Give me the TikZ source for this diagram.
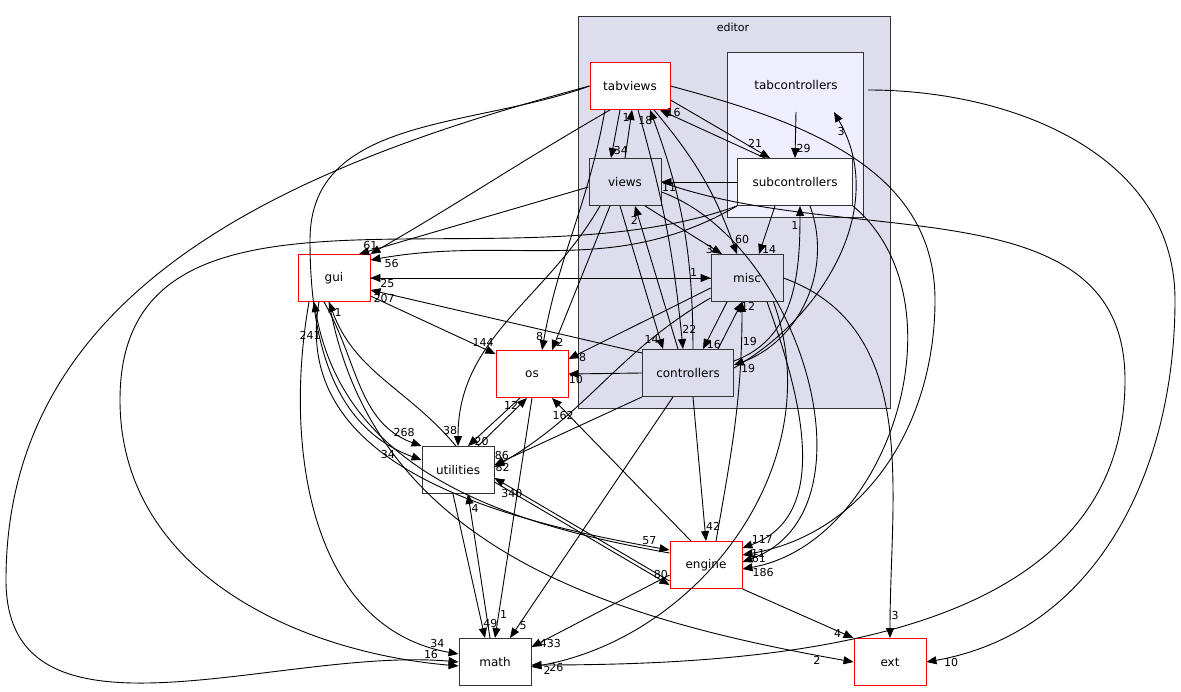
\documentclass[tikz,border=0pt]{standalone}
\usepackage{fontspec}
\setmainfont{DejaVu Sans}
\usetikzlibrary{arrows.meta}
\begin{document}
\begin{tikzpicture}[x=1pt,y=-1pt,line width=0.9pt,
 box/.style={draw=black!80,minimum width=72pt,minimum height=47pt,inner sep=0pt,font=\fontsize{12}{14}\selectfont},
 red/.style={box,draw=red,fill=white},
 grey/.style={box,fill=clust},
 e/.style={draw=black,-{Triangle[length=10pt,width=8pt]}},
 lab/.style={font=\fontsize{11}{12}\selectfont,inner sep=1pt}]
\definecolor{clust}{HTML}{DDDDEE}
\definecolor{inner}{HTML}{EEEEFF}
\useasboundingbox (0,0) rectangle (1181,692);
\draw[fill=clust,draw=black!80] (578,16) rectangle (890,408);
\node[font=\fontsize{11}{12}\selectfont] (ed) at (733,27) {editor};
\draw[fill=inner,draw=black!80] (727,52) rectangle (863,217);
\node[font=\fontsize{12}{14}\selectfont] (tc) at (796,85) {tabcontrollers};
\node[red,minimum width=80pt] (tv) at (630,86) {tabviews};
\node[grey] (vw) at (625,182) {views};
\node[box,fill=white,minimum width=115pt] (sc) at (795,182) {subcontrollers};
\node[grey] (mi) at (747,278) {misc};
\node[grey,minimum width=91pt] (co) at (688,373) {controllers};
\node[red] (gui) at (334,278) {gui};
\node[red] (os) at (532,374) {os};
\node[box] (ut) at (458,470) {utilities};
\node[red] (en) at (706,565) {engine};
\node[box] (ma) at (495,662) {math};
\node[red] (ex) at (890,662) {ext};
% inside editor
\draw[e] ([xshift=-10pt]tv.south) -- node[lab,pos=.85,right]{34} ([xshift=-14pt]vw.north);
\draw[e] ([xshift=0pt]vw.north) -- node[lab,pos=.85,left]{1} ([xshift=2pt]tv.south);
\draw[e] ([yshift=-14pt]tv.east) -- node[lab,pos=.85,above]{21} ([xshift=-25pt]sc.north);
\draw[e] ([xshift=-30pt]sc.north) -- node[lab,pos=.95,right]{16} ([xshift=30pt]tv.south);
\draw[e] (796,112) -- node[lab,pos=.8,right]{29} (sc.north);
\draw[e] (sc.west) -- node[lab,pos=.9,below]{11} (vw.east);
\draw[e] ([xshift=24pt]tv.south) to[bend left=10] node[lab,pos=.95,above right]{60} ([xshift=-10pt]mi.north);
\draw[e] ([xshift=8pt]tv.south) to[bend left=5] node[lab,pos=.93,right]{22} ([xshift=-5pt]co.north);
\draw[e] ([xshift=5pt]co.north) to[bend right=10] node[lab,pos=.96,left]{18} ([xshift=20pt]tv.south);
\draw[e] ([xshift=-20pt]sc.south) -- node[lab,pos=.9,right]{14} ([xshift=12pt]mi.north);
\draw[e] ([xshift=20pt]vw.south) -- node[lab,pos=.9,left]{3} ([xshift=-25pt]mi.north);
\draw[e] ([xshift=-5pt]vw.south) -- node[lab,pos=.93,left]{14} ([xshift=-25pt]co.north);
\draw[e] ([xshift=-10pt]co.north) -- node[lab,pos=.9,left]{2} ([xshift=10pt]vw.south);
\draw[e] ([xshift=-20pt]mi.south) -- node[lab,pos=.9,right]{16} ([xshift=15pt]co.north);
\draw[e] ([xshift=30pt]co.north) -- node[lab,pos=.9,right]{12} ([xshift=-5pt]mi.south);
\draw[e] ([yshift=12pt]co.east) to[out=20,in=-90] node[lab,pos=.9,left]{1} ([xshift=5pt]sc.south);
\draw[e] ([xshift=15pt]sc.south) to[out=-70,in=20] node[lab,pos=.97,below right]{19} ([yshift=8pt]co.east);
\draw[e] ([yshift=5pt]co.east) to[out=30,in=-60] node[lab,pos=.95,below]{3} (834,112);
% gui, misc, os
\draw[e] (gui.east) -- node[lab,pos=.95,above]{1} (mi.west);
\draw[e] (mi.west) -- node[lab,pos=.95,below]{25} (gui.east);
\draw[e] ([yshift=20pt]co.west) -- node[lab,pos=.95,below]{207} ([yshift=-12pt]gui.east);
\draw[e] ([yshift=-18pt]gui.east) -- node[lab,pos=.9,above]{144} ([yshift=20pt]os.west);
\draw[e] ([yshift=-5pt]vw.west) -- node[lab,pos=.95,above]{61} ([xshift=25pt]gui.north);
\draw[e] ([xshift=-20pt]tv.south) to[out=-150,in=30] (gui.north east);
\draw[e] (sc.south west) to[out=-150,in=10] node[lab,pos=.97,below right]{56} ([yshift=18pt]gui.east);
\draw[e] ([xshift=-25pt]tv.south) to[out=-100,in=80] node[lab,pos=.95,left]{8} ([xshift=10pt]os.north);
\draw[e] ([xshift=-15pt]vw.south) -- node[lab,pos=.95,right]{2} ([xshift=20pt]os.north);
\draw[e] ([yshift=-10pt]mi.west) -- node[lab,pos=.9,below]{8} ([yshift=15pt]os.east);
\draw[e] (co.west) -- node[lab,pos=.9,below]{10} (os.east);
\draw[e] ([xshift=-15pt]en.north) -- node[lab,pos=.92,below]{162} ([xshift=20pt]os.south);
% utilities
\draw[e] ([xshift=-12pt]os.south) -- node[lab,pos=.9,right]{20} ([xshift=10pt]ut.north);
\draw[e] ([xshift=20pt]ut.north) -- node[lab,pos=.85,left]{12} ([xshift=-5pt]os.south);
\draw[e] ([xshift=-25pt]vw.south) to[out=-120,in=90] node[lab,pos=.95,left]{38} (ut.north);
\draw[e] (co.south west) -- node[lab,pos=.95,above]{86} ([yshift=5pt]ut.east);
\draw[e] ([yshift=-20pt]mi.west) to[out=-150,in=30] node[lab,pos=.97,below]{82} ([yshift=3pt]ut.east);
\draw[e] ([xshift=-10pt]gui.south) to[out=-60,in=160] node[lab,pos=.9,above]{268} (ut.north west);
\draw[e] ([xshift=-2pt]ut.north) to[out=130,in=-70] node[lab,pos=.95,right]{1} ([xshift=-5pt]gui.south);
\draw[e] (tv.west) to[out=-160,in=90] (310,240) to[out=-90,in=160] node[lab,pos=.9,below left]{34} ([yshift=10pt]ut.west);
\draw[e] ([xshift=-15pt]gui.south) to[out=-100,in=170] node[lab,pos=.96,above]{57} ([yshift=15pt]en.west);
\draw[e] ([yshift=12pt]en.west) to[out=170,in=-80] node[lab,pos=.93,left]{241} ([xshift=-20pt]gui.south);
\draw[e] ([yshift=-12pt]ut.east) -- node[lab,pos=.95,above]{80} ([yshift=-20pt]en.west);
\draw[e] ([yshift=-16pt]en.west) -- node[lab,pos=.9,below]{340} ([yshift=-8pt]ut.east);
% math
\draw[e] ([xshift=-5pt]ut.south) -- node[lab,pos=.9,right]{49} ([xshift=-10pt]ma.north);
\draw[e] ([xshift=-5pt]ma.north) -- node[lab,pos=.9,right]{4} ([xshift=10pt]ut.south);
\draw[e] (os.south) -- node[lab,pos=.9,right]{1} (ma.north);
\draw[e] ([xshift=-15pt]co.south) -- node[lab,pos=.95,right]{5} ([xshift=15pt]ma.north);
\draw[e] ([yshift=-10pt]en.west) -- node[lab,pos=.95,right]{433} ([yshift=15pt]ma.east);
\draw[e] ([xshift=-25pt]gui.south) to[out=-100,in=170] node[lab,pos=.95,above]{34} ([yshift=8pt]ma.west);
\draw[e] (tv.west) to[out=-165,in=90] (6,580) to[out=-90,in=175] node[lab,pos=.95,above]{16} (ma.west);
\draw[e] ([xshift=-10pt]mi.south east) to[out=-70,in=10] node[lab,pos=.95,below]{26} ([yshift=-5pt]ma.east);
\draw[e] (sc.south west) to[out=-160,in=90] (120,400) to[out=-90,in=175] ([yshift=-4pt]ma.west);
\draw[e] (vw.east) to[out=-20,in=90] (1125,380) to[out=-90,in=0] node[lab,pos=.98,below]{2} ([yshift=-3pt]ma.east);
% engine
\draw[e] ([xshift=5pt]co.south) -- node[lab,pos=.9,right]{42} (en.north);
\draw[e] ([xshift=10pt]en.north) to[out=80,in=-90] node[lab,pos=.85,right]{19} ([xshift=-5pt]mi.south);
\draw[e] ([xshift=20pt]mi.south) to[out=-70,in=20] node[lab,pos=.97,above right]{117} ([yshift=17pt]en.east);
\draw[e] (tv.east) to[out=-15,in=90] (935,300) to[out=-90,in=10] node[lab,pos=.98,right]{11} ([yshift=10pt]en.east);
\draw[e] ([yshift=-10pt]vw.east) to[out=-20,in=20] node[lab,pos=.98,right]{61} ([yshift=3pt]en.east);
\draw[e] (sc.south east) to[out=-40,in=10] node[lab,pos=.98,below right]{186} ([yshift=-4pt]en.east);
% ext
\draw[e] (en.south east) -- node[lab,pos=.9,left]{4} (ex.north west);
\draw[e] ([xshift=-5pt]gui.south) to[out=-80,in=170] node[lab,pos=.95,below]{2} (ex.west);
\draw[e] (mi.east) to[out=-20,in=90] node[lab,pos=.95,right]{3} (ex.north);
\draw[e] (868,90) to[out=0,in=90] (1175,300) to[out=-90,in=10] node[lab,pos=.95,below]{10} (ex.east);
\end{tikzpicture}
\end{document}
